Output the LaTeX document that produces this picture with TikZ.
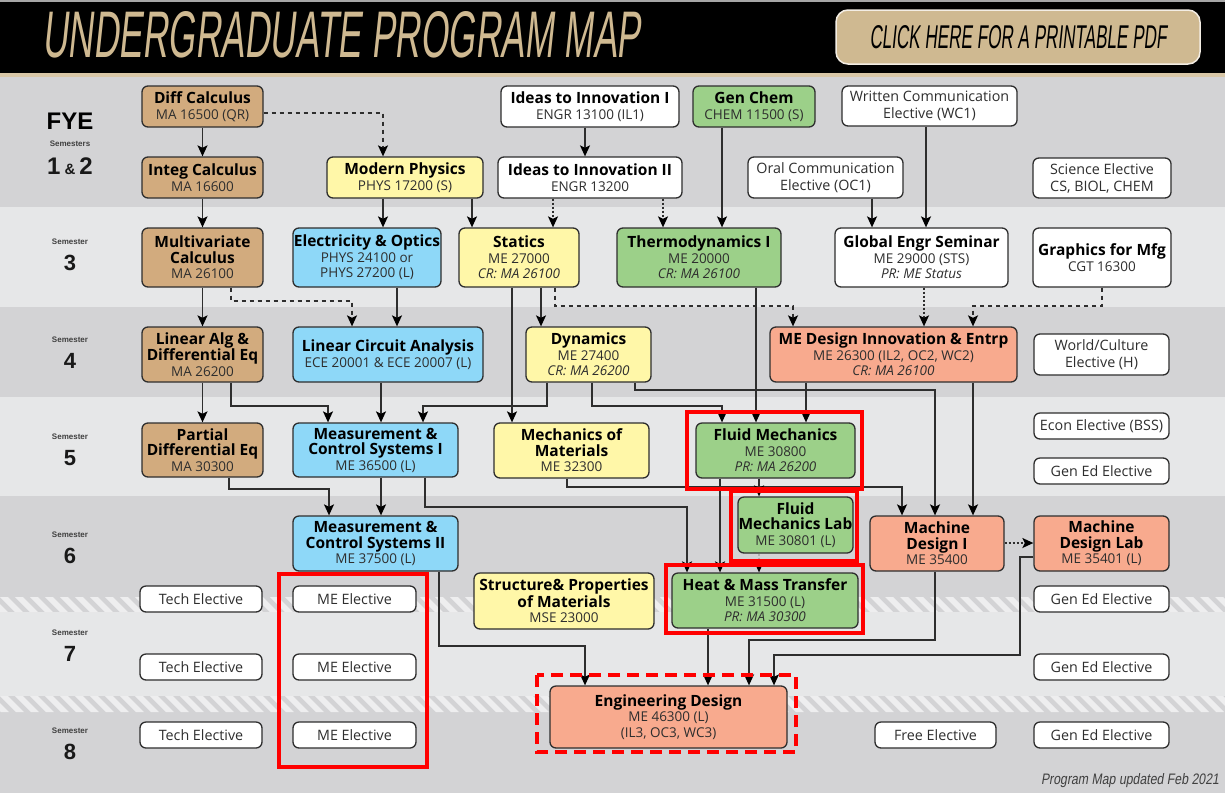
\documentclass[tikz,border=0pt]{standalone}
\usepackage{graphicx}
\usepackage{fontspec}
\setmainfont{Open Sans}
\newfontfamily\labfont{Liberation Sans}
\newfontfamily\hdrfont[FakeSlant=0.2]{Liberation Sans}
\usetikzlibrary{arrows.meta}
\definecolor{bgdark}{HTML}{D3D3D5}
\definecolor{bglight}{HTML}{E6E7E8}
\definecolor{stripecol}{HTML}{EEEEEF}
\definecolor{gold}{HTML}{CFB991}
\definecolor{ctan}{HTML}{D2AB7E}
\definecolor{cyel}{HTML}{FFF7A8}
\definecolor{cblue}{HTML}{8ED8F8}
\definecolor{cgreen}{HTML}{9CD089}
\definecolor{csal}{HTML}{F8AA8E}
\definecolor{edge}{HTML}{2E2E2E}
\definecolor{redbox}{HTML}{FF0000}
\newcommand\tl[1]{{\fontsize{15.5}{15.5}\selectfont\bfseries\color{black}#1}}
\newcommand\cbox[7]{\node[#1, minimum width={#5-#3}, minimum height={#6-#4}] (#2) at ({(#3+#5)/2},{(#4+#6)/2}) {#7};}
\newcommand\semlab[3]{\node[semsmall] (#1s) at (70,#2) {Semester}; \node[semnum] (#1n) at (70,{#2+21}) {#3};}
\tikzset{
  course/.style={draw=edge, line width=1.3pt, rounded corners=6pt, inner sep=0pt, align=center, text=black!82, font=\fontsize{13.5}{15.5}\selectfont},
  tanc/.style={course, fill=ctan},
  yelc/.style={course, fill=cyel},
  bluec/.style={course, fill=cblue},
  greenc/.style={course, fill=cgreen},
  salc/.style={course, fill=csal},
  whitec/.style={course, fill=white},
  elect/.style={course, fill=white, font=\fontsize{14.3}{17}\selectfont},
  conn/.style={draw=edge, line width=1.4pt, -{Stealth[length=11pt,width=10pt,inset=2.5pt,color=black]}},
  dashconn/.style={conn, dash pattern=on 4pt off 4pt},
  dotconn/.style={conn, dash pattern=on 2pt off 2pt},
  redframe/.style={draw=redbox, line width=3.5pt},
  semsmall/.style={inner sep=0pt, text=black!75, font=\labfont\bfseries\fontsize{8}{8}\selectfont},
  semnum/.style={inner sep=0pt, text=black!90, font=\labfont\bfseries\fontsize{22}{22}\selectfont},
}
\begin{document}
\begin{tikzpicture}[x=1pt,y=-1pt]
\useasboundingbox (0,0) rectangle (1225,793);
% backgrounds
\fill[bgdark] (0,77) rectangle (1225,207);
\fill[bglight] (0,207) rectangle (1225,307);
\fill[bgdark] (0,307) rectangle (1225,397);
\fill[bglight] (0,397) rectangle (1225,496);
\fill[bgdark] (0,496) rectangle (1225,612);
\fill[bglight] (0,612) rectangle (1225,696);
\fill[bgdark] (0,696) rectangle (1225,793);
\begin{scope}
\clip (0,597) rectangle (1225,612);
\foreach \x in {-30,-15,...,1240} \fill[stripecol] (\x,597) -- ++(8,0) -- ++(15,15) -- ++(-8,0) -- cycle;
\end{scope}
\begin{scope}
\clip (0,696) rectangle (1225,712);
\foreach \x in {-30,-15,...,1240} \fill[stripecol] (\x,696) -- ++(8,0) -- ++(16,16) -- ++(-8,0) -- cycle;
\end{scope}
% header
\fill[black] (0,0) rectangle (1225,74);
\fill[gray!70] (0,0) rectangle (1225,1.5);
\fill[gold!80!white] (0,73) rectangle (1225,77);
\node[anchor=west, inner sep=0pt, text=gold] (title) at (42,35) {\resizebox{598pt}{46pt}{\hdrfont UNDERGRADUATE PROGRAM MAP}};
\node[draw=white!75!gold, fill=gold, line width=1.5pt, rounded corners=12pt, minimum width=364, minimum height=54, inner sep=0pt] (btn) at (1018,37) {\resizebox{297pt}{23pt}{\hdrfont CLICK HERE FOR A PRINTABLE PDF}};
\node[inner sep=0pt, text=black!75] (upd) at (1130,781) {\resizebox{178pt}{11pt}{\hdrfont Program Map updated Feb 2021}};
% semester labels
\node[inner sep=0pt, font=\labfont\bfseries\fontsize{24}{24}\selectfont] (fye) at (70,121) {FYE};
\node[semsmall] (fyes) at (70,144) {Semesters};
\node[semnum, font=\labfont\bfseries\fontsize{24}{24}\selectfont] (fyen) at (70,166) {1\,{\fontsize{15}{15}\selectfont\&}\,2};
\semlab{s3}{242}{3}
\semlab{s4}{340}{4}
\semlab{s5}{437}{5}
\semlab{s6}{535}{6}
\semlab{s7}{633}{7}
\semlab{s8}{731}{8}
% courses
\cbox{tanc}{dc}{142}{86}{263}{127}{\tl{Diff Calculus}\\MA 16500 (QR)}
\cbox{tanc}{ic}{142}{157}{263}{198}{\tl{Integ Calculus}\\MA 16600}
\cbox{tanc}{mc}{142}{228}{263}{287}{\tl{Multivariate}\\\tl{Calculus}\\MA 26100}
\cbox{tanc}{la}{142}{327}{263}{382}{\tl{Linear Alg \&}\\\tl{Differential Eq}\\MA 26200}
\cbox{tanc}{pde}{142}{423}{263}{477}{\tl{Partial}\\\tl{Differential Eq}\\MA 30300}
\cbox{yelc}{mp}{327}{157}{483}{198}{\tl{Modern Physics}\\PHYS 17200 (S)}
\cbox{bluec}{eo}{293}{228}{441}{287}{\tl{Electricity \& Optics}\\PHYS 24100 or\\PHYS 27200 (L)}
\cbox{bluec}{lca}{293}{327}{483}{382}{\tl{Linear Circuit Analysis}\\ECE 20001 \& ECE 20007 (L)}
\cbox{bluec}{mcsa}{293}{423}{458}{477}{\tl{Measurement \&}\\\tl{Control Systems I}\\ME 36500 (L)}
\cbox{bluec}{mcsb}{293}{516}{458}{571}{\tl{Measurement \&}\\\tl{Control Systems II}\\ME 37500 (L)}
\cbox{whitec}{ia}{501}{86}{679}{127}{\tl{Ideas to Innovation I}\\ENGR 13100 (IL1)}
\cbox{whitec}{ib}{498}{157}{682}{198}{\tl{Ideas to Innovation II}\\ENGR 13200}
\cbox{greenc}{gc}{693}{86}{815}{127}{\tl{Gen Chem}\\CHEM 11500 (S)}
\cbox{yelc}{st}{459}{228}{579}{287}{\tl{Statics}\\ME 27000\\\textit{CR: MA 26100}}
\cbox{greenc}{th}{617}{228}{781}{287}{\tl{Thermodynamics I}\\ME 20000\\\textit{CR: MA 26100}}
\cbox{yelc}{dyn}{526}{327}{651}{382}{\tl{Dynamics}\\ME 27400\\\textit{CR: MA 26200}}
\cbox{yelc}{mom}{494}{423}{649}{478}{\tl{Mechanics of}\\\tl{Materials}\\ME 32300}
\cbox{greenc}{fm}{696}{423}{855}{478}{\tl{Fluid Mechanics}\\ME 30800\\\textit{PR: MA 26200}}
\cbox{greenc}{fml}{738}{497}{853}{553}{\tl{Fluid}\\\tl{Mechanics Lab}\\ME 30801 (L)}
\cbox{yelc}{spm}{474}{573}{654}{629}{\tl{Structure\& Properties}\\\tl{of Materials}\\MSE 23000}
\cbox{greenc}{hmt}{672}{573}{858}{628}{\tl{Heat \& Mass Transfer}\\ME 31500 (L)\\\textit{PR: MA 30300}}
\cbox{salc}{ed}{550}{686}{787}{748}{\tl{Engineering Design}\\ME 46300 (L)\\(IL3, OC3, WC3)}
\cbox{salc}{med}{770}{327}{1017}{382}{\tl{ME Design Innovation \& Entrp}\\ME 26300 (IL2, OC2, WC2)\\\textit{CR: MA 26100}}
\cbox{whitec}{ge}{835}{228}{1008}{287}{\tl{Global Engr Seminar}\\ME 29000 (STS)\\\textit{PR: ME Status}}
\cbox{whitec}{gm}{1033}{228}{1171}{287}{\tl{Graphics for Mfg}\\CGT 16300}
\cbox{salc}{mdi}{870}{516}{1004}{571}{\tl{Machine}\\\tl{Design I}\\ME 35400}
\cbox{salc}{mdl}{1034}{516}{1169}{571}{\tl{Machine}\\\tl{Design Lab}\\ME 35401 (L)}
% electives
\cbox{elect}{wc}{842}{86}{1017}{126}{Written Communication\\Elective (WC1)}
\cbox{elect}{oc}{748}{157}{903}{198}{Oral Communication\\Elective (OC1)}
\cbox{elect}{se}{1033}{158}{1171}{198}{Science Elective\\CS, BIOL, CHEM}
\cbox{elect}{wce}{1034}{334}{1169}{375}{World/Culture\\Elective (H)}
\cbox{elect}{econ}{1034}{413}{1169}{439}{Econ Elective (BSS)}
\cbox{elect}{gea}{1034}{458}{1169}{484}{Gen Ed Elective}
\cbox{elect}{teA}{140}{586}{262}{612}{Tech Elective}
\cbox{elect}{teB}{140}{654}{262}{680}{Tech Elective}
\cbox{elect}{teC}{140}{722}{262}{748}{Tech Elective}
\cbox{elect}{meA}{293}{586}{416}{612}{ME Elective}
\cbox{elect}{meB}{293}{654}{416}{680}{ME Elective}
\cbox{elect}{meC}{293}{722}{416}{748}{ME Elective}
\cbox{elect}{geA}{1034}{586}{1169}{612}{Gen Ed Elective}
\cbox{elect}{geB}{1034}{654}{1169}{680}{Gen Ed Elective}
\cbox{elect}{geC}{1034}{722}{1169}{748}{Gen Ed Elective}
\cbox{elect}{fe}{875}{722}{996}{748}{Free Elective}
% connectors
\draw[conn] (dc.south) -- (ic.north);
\draw[conn] (ic.south) -- (mc.north);
\draw[conn] (mc.south) -- (la.north);
\draw[conn] (la.south) -- (pde.north);
\draw[dashconn] (dc.east |- 0,113) -| (383,0 |- mp.north);
\draw[dashconn] (231,0 |- mc.south) |- (352,301) -- (352,0 |- lca.north);
\draw[conn] (231,0 |- la.south) |- (328,406) -- (328,0 |- mcsa.north);
\draw[conn] (229,0 |- pde.south) |- (329,489) -- (329,0 |- mcsb.north);
\draw[conn] (383,0 |- mp.south) -- (383,0 |- eo.north);
\draw[conn] (472,0 |- mp.south) -- (472,0 |- st.north);
\draw[conn] (397,0 |- eo.south) -- (397,0 |- lca.north);
\draw[conn] (381,0 |- lca.south) -- (381,0 |- mcsa.north);
\draw[conn] (381,0 |- mcsa.south) -- (381,0 |- mcsb.north);
\draw[conn] (585,0 |- ia.south) -- (585,0 |- ib.north);
\draw[dotconn] (553,0 |- ib.south) -- (553,0 |- st.north);
\draw[dotconn] (663,0 |- ib.south) -- (663,0 |- th.north);
\draw[conn] (722,0 |- gc.south) -- (722,0 |- th.north);
\draw[conn] (872,0 |- oc.south) -- (872,0 |- ge.north);
\draw[conn] (926,0 |- wc.south) -- (926,0 |- ge.north);
\draw[conn] (541,0 |- st.south) -- (541,0 |- dyn.north);
\draw[conn] (512,0 |- st.south) -- (512,0 |- mom.north);
\draw[dashconn] (555,0 |- st.south) |- (793,306) -- (793,0 |- med.north);
\draw[dotconn] (924,0 |- ge.south) -- (924,0 |- med.north);
\draw[dashconn] (1102,0 |- gm.south) |- (973,306) -- (973,0 |- med.north);
\draw[conn] (547,0 |- dyn.south) |- (423,406) -- (423,0 |- mcsa.north);
\draw[conn] (592,0 |- dyn.south) |- (722,406) -- (722,0 |- fm.north);
\draw[conn] (635,0 |- dyn.south) |- (935,390) -- (935,0 |- mdi.north);
\draw[conn] (756,0 |- th.south) -- (756,0 |- fm.north);
\draw[conn] (806,0 |- med.south) -- (806,0 |- fm.north);
\draw[conn] (973,0 |- med.south) -- (973,0 |- mdi.north);
\draw[conn] (567,0 |- mom.south) |- (902,487) -- (902,0 |- mdi.north);
\draw[conn] (759,0 |- fm.south) -- (759,0 |- fml.north);
\draw[conn] (720,0 |- fm.south) -- (720,0 |- hmt.north);
\draw[dotconn, draw=gray!60] (759,0 |- fml.south) -- (759,0 |- hmt.north);
\draw[conn] (425,0 |- mcsa.south) |- (687,507) -- (687,0 |- hmt.north);
\draw[dotconn] (mdi.east |- 0,543) -- (mdl.west |- 0,543);
\draw[conn] (439,0 |- mcsb.south) |- (585,646) -- (585,0 |- ed.north);
\draw[conn] (708,0 |- hmt.south) -- (708,0 |- ed.north);
\draw[conn] (935,0 |- mdi.south) |- (749,640) -- (749,0 |- ed.north);
\draw[conn] (mdl.west |- 0,557) -| (1020,655) -| (774,0 |- ed.north);
% red highlight frames
\draw[redframe] (279,574) rectangle (427,767);
\draw[redframe] (687,412) rectangle (862,489);
\draw[redframe] (731,491) rectangle (857,561);
\draw[redframe] (666,565) rectangle (863,633);
\draw[redframe, dash pattern=on 12pt off 7pt] (537,675) rectangle (796,752);
\end{tikzpicture}
\end{document}
